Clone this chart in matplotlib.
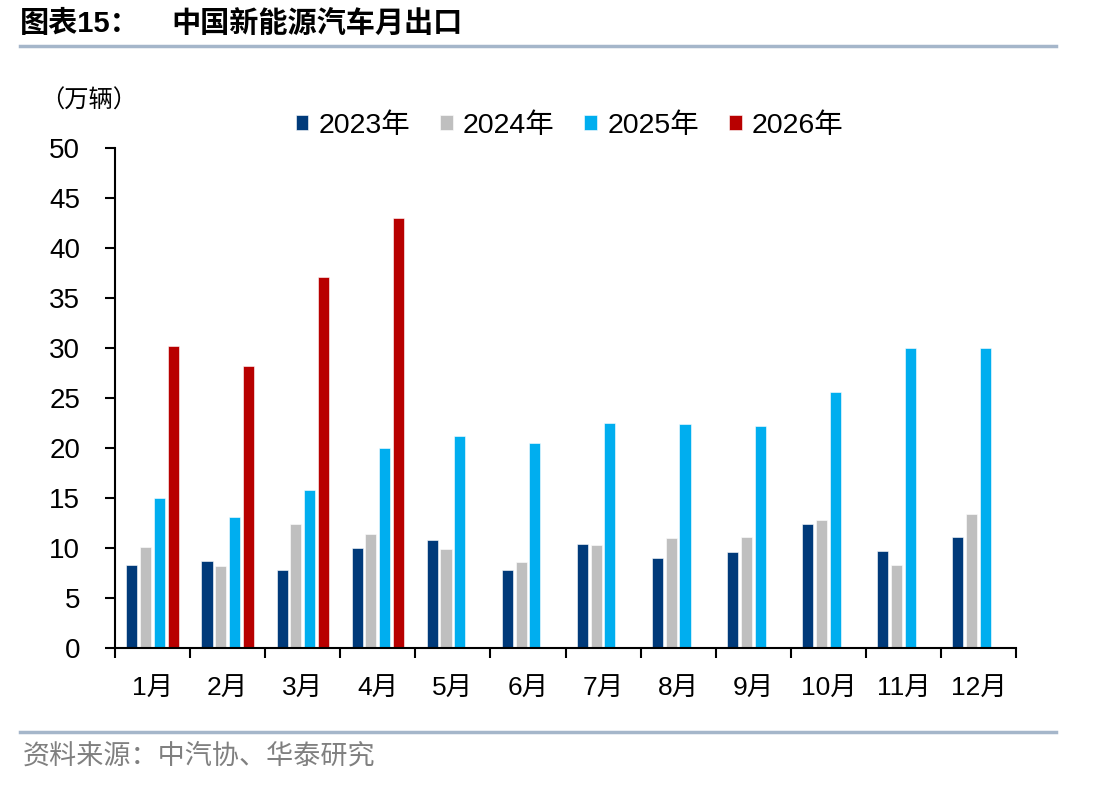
import matplotlib.pyplot as plt
import numpy as np

plt.rcParams['font.family'] = ['Liberation Sans', 'Noto Sans CJK SC', 'DejaVu Sans']

months = ['1月', '2月', '3月', '4月', '5月', '6月', '7月', '8月', '9月', '10月', '11月', '12月']
exports_2023 = [8.3, 8.7, 7.8, 10.0, 10.8, 7.8, 10.4, 9.0, 9.6, 12.4, 9.7, 11.1]
exports_2024 = [10.1, 8.2, 12.4, 11.4, 9.9, 8.6, 10.3, 11.0, 11.1, 12.8, 8.3, 13.4]
exports_2025 = [15.0, 13.1, 15.8, 20.0, 21.2, 20.5, 22.5, 22.4, 22.2, 25.6, 30.0, 30.0]
exports_2026 = [30.2, 28.2, 37.1, 43.0]

series = [
    ('2023年', exports_2023, '#003A7A'),
    ('2024年', exports_2024, '#BFBFBF'),
    ('2025年', exports_2025, '#00AEEF'),
    ('2026年', exports_2026, '#B80000'),
]

fig = plt.figure(figsize=(11.12, 7.86), dpi=100)
ax = fig.add_axes([0.1034, 0.1756, 0.8103, 0.6361])

x = np.arange(len(months))
width = 0.148
step = 0.183
for i, (label, vals, color) in enumerate(series):
    pos = x[:len(vals)] + (i - 1.5) * step
    ax.bar(pos, vals, width=width, color=color, edgecolor='white', linewidth=0.4, label=label)

ax.set_xlim(-0.5, len(months) - 0.5)
ax.set_ylim(0, 50)
ax.set_yticks(range(0, 51, 5))
ax.tick_params(axis='y', labelsize=20, direction='out', length=7, width=1.5, pad=18)

# major ticks at month boundaries, labels on minor ticks at month centres
ax.set_xticks(np.arange(-0.5, len(months), 1))
ax.set_xticklabels([])
ax.set_xticks(x, minor=True)
ax.set_xticklabels(months, minor=True, fontsize=19)
ax.tick_params(axis='x', which='major', direction='out', length=7, width=1.5)
ax.tick_params(axis='x', which='minor', length=0, pad=21)

for s in ['top', 'right']:
    ax.spines[s].set_visible(False)
ax.spines['left'].set_linewidth(1.5)
ax.spines['bottom'].set_linewidth(1.5)

ax.legend(loc='upper left', bbox_to_anchor=(0.172, 1.122), ncol=4, frameon=False,
          fontsize=20.5, handlelength=0.45, handleheight=0.45, handletextpad=0.35,
          columnspacing=1.05)

fig.text(0.036, 0.871, '（万辆）', fontsize=17.5, ha='left', va='center')

fig.text(0.018, 0.970, '图表15：', fontsize=21, fontweight='bold', ha='left', va='center')
fig.text(0.154, 0.970, '中国新能源汽车月出口', fontsize=21, fontweight='bold', ha='left', va='center')
fig.add_artist(plt.Line2D([0.018, 0.950], [0.942, 0.942], color='#A5B6CA', linewidth=2.5))

fig.add_artist(plt.Line2D([0.018, 0.950], [0.069, 0.069], color='#A5B6CA', linewidth=2.5))
fig.text(0.020, 0.037, '资料来源：中汽协、华泰研究', fontsize=19.5, color='#808080', ha='left', va='center')

fig.savefig('out.png', dpi=100)
